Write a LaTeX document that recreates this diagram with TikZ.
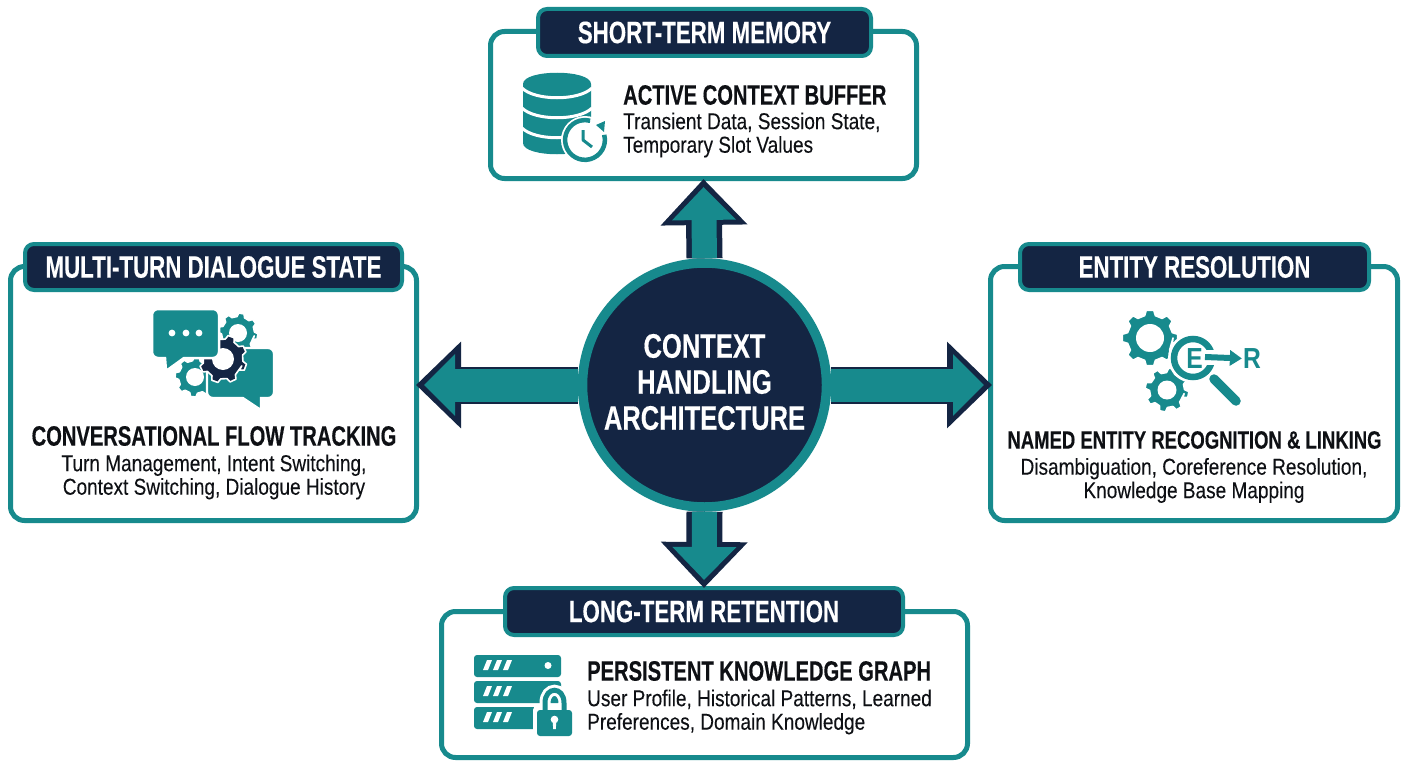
\documentclass[tikz,border=0pt]{standalone}
\usepackage{fontspec}
\setmainfont{Liberation Sans}
\newfontfamily\titlef{Liberation Sans}[FakeStretch=0.72,BoldFeatures={FakeBold=0.3}]
\newfontfamily\namedf{Liberation Sans}[FakeStretch=0.74,BoldFeatures={FakeBold=0.3}]
\newfontfamily\hubf{Liberation Sans}[FakeStretch=0.75,BoldFeatures={FakeBold=0.3}]
\newfontfamily\bodyf{Liberation Sans}[FakeStretch=0.827,FakeBold=0.12]
\newfontfamily\iconf{Liberation Sans}[FakeStretch=0.85]
\usetikzlibrary{arrows.meta,shapes.geometric}
\definecolor{tealc}{HTML}{178A8D}
\definecolor{navyc}{HTML}{142543}
\definecolor{inkc}{HTML}{0E1014}
\newcommand{\fs}[1]{\fontsize{#1}{#1}\selectfont}
% cx cy Ro Ri teeth rotation hole colour
\newcommand{\gearicon}[8]{%
  \path[fill=#8,draw=white,line width=1.6,line join=round]
    ({#1+#4*cos(#6)},{#2+#4*sin(#6)})
    \foreach \k [evaluate=\k as \a using \k*360/#5+#6] in {1,...,#5} {
      -- ({#1+#4*cos(\a-0.30*360/#5)},{#2+#4*sin(\a-0.30*360/#5)})
      -- ({#1+#3*cos(\a-0.17*360/#5)},{#2+#3*sin(\a-0.17*360/#5)})
      -- ({#1+#3*cos(\a+0.17*360/#5)},{#2+#3*sin(\a+0.17*360/#5)})
      -- ({#1+#4*cos(\a+0.30*360/#5)},{#2+#4*sin(\a+0.30*360/#5)})
    } -- cycle;
  \fill[white] (#1,#2) circle[radius=#7];
}
\tikzset{
  panel/.style={draw=tealc,line width=5,fill=white,rounded corners=14,inner sep=0},
  titlebar/.style={draw=tealc,line width=4,fill=navyc,rounded corners=9,inner sep=0,text=white,font=\titlef\bfseries\fs{31}},
  hubnode/.style={circle,draw=tealc,line width=9.5,fill=navyc,inner sep=0},
  hubtext/.style={inner sep=0,text=white,align=center,font=\hubf\bfseries\fontsize{34}{36}\selectfont},
  headtext/.style={inner sep=0,text=inkc,font=\titlef\bfseries\fs{28}},
  namedtext/.style={inner sep=0,text=inkc,font=\namedf\bfseries\fs{25}},
  bodytext/.style={inner sep=0,text=inkc,font=\bodyf\fontsize{23}{23.5}\selectfont},
  vouter/.style={navyc,line width=36,shorten >=-2,-{Triangle[length=46pt,width=84pt]}},
  vinner/.style={tealc,line width=25,shorten >=6,-{Triangle[length=33pt,width=62pt]}},
  houter/.style={navyc,line width=37,-{Triangle[length=45pt,width=84pt]}},
  hinner/.style={tealc,line width=33,-{Triangle[length=31pt,width=60pt]}},
}
\begin{document}
\begin{tikzpicture}[x=1pt,y=-1pt]
\useasboundingbox[fill=white] (0,0) rectangle (1408,768);

% panels
\node[panel,minimum width=426,minimum height=147] (topbox) at (703.5,105) {};
\node[panel,minimum width=406,minimum height=254] (leftbox) at (213.5,393.5) {};
\node[panel,minimum width=407,minimum height=254] (rightbox) at (1194,393.5) {};
\node[panel,minimum width=526,minimum height=146] (bottombox) at (704.5,684.5) {};

% title bars
\node[titlebar,minimum width=333,minimum height=47] (toptitle) at (704.5,32.5) {SHORT-TERM MEMORY};
\node[titlebar,minimum width=377,minimum height=46] (lefttitle) at (213.5,267) {MULTI-TURN DIALOGUE STATE};
\node[titlebar,minimum width=349,minimum height=46] (righttitle) at (1194.5,267) {ENTITY RESOLUTION};
\node[titlebar,minimum width=398,minimum height=47] (bottomtitle) at (704,611.5) {LONG-TERM RETENTION};

% hub
\node[hubnode,minimum size=244] (hub) at (704.5,385) {};
\node[hubtext] (hublabel) at (704.5,382) {CONTEXT\\[0pt]HANDLING\\[0pt]ARCHITECTURE};

% connectors
\draw[vouter] (hub.north) -- (topbox.south);
\draw[vinner] (hub.north) -- (topbox.south);
\draw[vouter] (hub.south) -- (bottomtitle.north);
\draw[vinner] (hub.south) -- (bottomtitle.north);
\draw[houter,shorten >=-3] (hub.west) -- (hub.west -| leftbox.east);
\draw[hinner,shorten >=5] (hub.west) -- (hub.west -| leftbox.east);
\draw[houter,shorten >=-4] (hub.east) -- (hub.east -| rightbox.west);
\draw[hinner,shorten >=4] (hub.east) -- (hub.east -| rightbox.west);

% texts
\node[headtext,anchor=west] (tophead) at (623,95) {ACTIVE CONTEXT BUFFER};
\node[bodytext,anchor=west,align=left] (topbody) at (623,135) {Transient Data, Session State,\\Temporary Slot Values};
\node[headtext,anchor=center] (lefthead) at (214,436) {CONVERSATIONAL FLOW TRACKING};
\node[bodytext,anchor=center,align=center] (leftbody) at (214,477) {Turn Management, Intent Switching,\\Context Switching, Dialogue History};
\node[namedtext,anchor=center] (righthead) at (1194.5,440) {NAMED ENTITY RECOGNITION \& LINKING};
\node[bodytext,anchor=center,align=center] (rightbody) at (1194,480.5) {Disambiguation, Coreference Resolution,\\Knowledge Base Mapping};
\node[headtext,anchor=west] (bottomhead) at (587,671) {PERSISTENT KNOWLEDGE GRAPH};
\node[bodytext,anchor=west,align=left] (bottombody) at (587,712) {User Profile, Historical Patterns, Learned\\Preferences, Domain Knowledge};

% database icon
\fill[tealc] (523,84) .. controls (523,69) and (591,69) .. (591,84) -- (591,143)
  .. controls (591,158) and (523,158) .. (523,143) -- cycle;
\foreach \yy in {88,108,128}
  \draw[white,line width=3] (522,\yy) .. controls (535,\yy+13) and (579,\yy+13) .. (592,\yy);
\fill[white] (585,140) circle[radius=24];
\draw[tealc,line width=4.5] (604.2,134.8) arc[start angle=-15,end angle=285,radius=19.9];
\fill[tealc] (596,125) -- (605,121) -- (604,132) -- cycle;
\draw[tealc,line width=3,line join=round] (583,130) -- (583,140) -- (592,147);

% server + lock icon
\foreach \yy in {655,681,707}
  \fill[tealc,rounded corners=3] (474,\yy) rectangle (561,\yy+22);
\foreach \yy in {660,686,712}
  \foreach \xx in {483,493,503}
    \fill[white] (\xx,\yy+10) -- (\xx+5,\yy+10) -- (\xx+9,\yy) -- (\xx+4,\yy) -- cycle;
\fill[white] (548,665.5) circle[radius=3.5];
\fill[white,rounded corners=4] (533,706) rectangle (576,740);
\draw[white,line width=11] (545,712) -- (545,703) .. controls (545,686) and (564,686) .. (564,703) -- (564,712);
\draw[tealc,line width=5] (545,712) -- (545,703) .. controls (545,686) and (564,686) .. (564,703) -- (564,712);
\fill[tealc,rounded corners=3] (537,710) rectangle (572,736);
\fill[white] (554.5,719.5) circle[radius=3.8];
\fill[white] (552.6,720) -- (556.4,720) -- (555.8,729) -- (553.2,729) -- cycle;

% chat + gears icon
\gearicon{238}{333}{20}{16.5}{8}{10}{9}{tealc}
\gearicon{195}{377}{20}{16.5}{8}{5}{9}{tealc}
\path[fill=tealc,draw=white,line width=2.2,rounded corners=6] (207,348) -- (274,348) -- (274,398)
  [sharp corners] -- (261,398) -- (261,410) -- (243,398) [rounded corners=6] -- (207,398) -- cycle;
\gearicon{223}{359}{24}{20}{8}{20}{11}{navyc}
\path[fill=tealc,draw=white,line width=2.5,rounded corners=6] (152,309) -- (219,309) -- (219,358)
  [sharp corners] -- (184,358) -- (166,371) -- (165,358) [rounded corners=6] -- (152,358) -- cycle;
\foreach \xx in {172,186,199} \fill[white] (\xx,333) circle[radius=3.4];

% entity resolution icon
\gearicon{1150}{338}{28}{23}{8}{0}{14}{tealc}
\gearicon{1167}{390}{22}{17.5}{8}{12}{9.5}{tealc}
\draw[white,line width=12,line cap=round] (1215,380) -- (1237,402);
\fill[white] (1193,358) circle[radius=25];
\draw[tealc,line width=9.5,line cap=round] (1214,379) -- (1236,401);
\draw[tealc,line width=6.5] (1193,358) circle[radius=19];
\fill[white] (1202,350) rectangle (1222,365);
\node[inner sep=0,text=tealc,font=\iconf\bfseries\fs{29}] (letterE) at (1194.5,358.5) {E};
\coordinate (arrowfrom) at (1205,357);
\node[inner sep=0,text=tealc,font=\iconf\bfseries\fs{29}] (letterR) at (1252,358.5) {R};
\draw[tealc,line width=6,shorten >=1,-{Triangle[length=12pt,width=15pt]}] (arrowfrom) -- (letterR.west);
\end{tikzpicture}
\end{document}
